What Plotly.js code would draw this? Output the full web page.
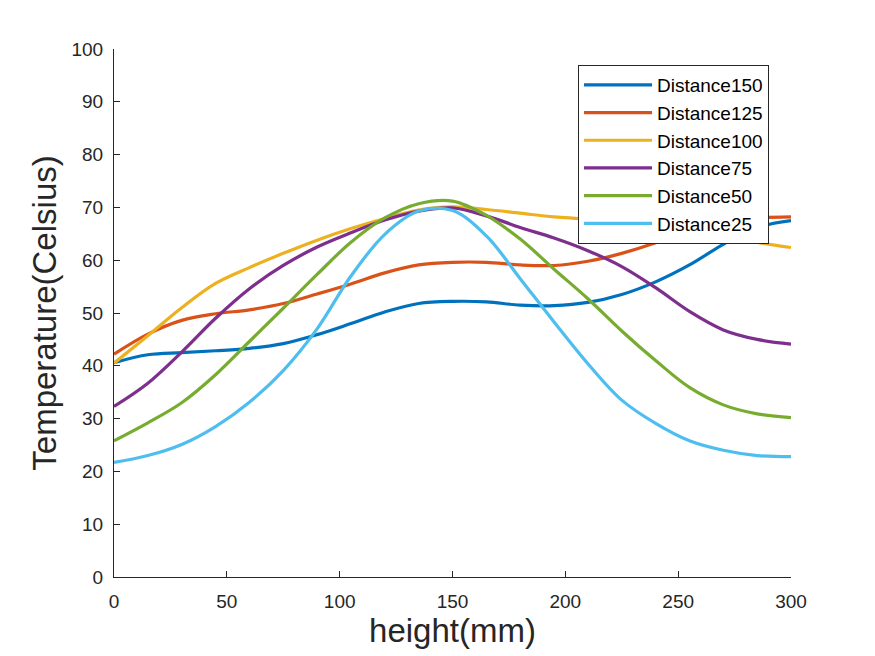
<!DOCTYPE html>
<html>
<head>
<meta charset="utf-8">
<script src="https://cdn.plot.ly/plotly-3.0.1.min.js"></script>
<style>html,body{margin:0;padding:0;background:#fff;}#chart{width:875px;height:656px;}</style>
</head>
<body>
<div id="chart"></div>
<script>
const heights = [0,15,30,45,60,75,90,105,120,135,150,165,180,195,210,225,240,255,270,285,300];
const seriesNames = ["Distance150","Distance125","Distance100","Distance75","Distance50","Distance25"];
const distance150 = [40.6,42.1,42.5,42.85,43.3,44.2,45.9,48.0,50.2,51.8,52.2,52.1,51.5,51.4,52.0,53.5,55.9,59.1,63.0,66.2,67.5];
const distance125 = [42.2,46.0,48.6,49.85,50.6,51.8,53.6,55.5,57.6,59.1,59.6,59.6,59.1,59.0,59.8,61.3,63.3,65.8,67.3,68.0,68.2];
const distance100 = [40.5,45.7,51.0,55.6,58.6,61.3,63.8,66.0,67.9,69.5,70.1,69.6,68.9,68.2,67.8,67.6,67.3,66.4,65.0,63.4,62.4];
const distance75  = [32.3,36.7,42.6,49.0,54.6,59.0,62.5,65.2,67.6,69.3,69.9,68.4,66.2,64.2,61.8,58.8,54.8,50.3,46.8,45.0,44.1];
const distance50  = [25.8,29.2,33.0,38.3,44.6,50.9,57.3,63.4,68.0,70.7,71.2,68.5,64.0,58.3,52.7,46.6,41.0,35.9,32.6,30.9,30.2];
const distance25  = [21.7,23.0,25.1,28.5,33.1,39.1,47.0,57.0,64.9,69.3,69.4,64.6,56.5,48.3,40.4,33.5,29.1,25.8,24.0,23.0,22.8];
const seriesValues = [distance150,distance125,distance100,distance75,distance50,distance25];
const colors = ["#0072BD","#D95319","#EDB120","#7E2F8E","#77AC30","#4DBEEE"];

const traces = seriesNames.map((n,i)=>({
  x: heights, y: seriesValues[i], name: n, type: "scatter", mode: "lines",
  line: {color: colors[i], width: 3.2, shape: "spline", smoothing: 1}
}));

const font = "Liberation Sans, Arial, Helvetica, sans-serif";
const layout = {
  width: 875, height: 656,
  margin: {l:114, r:84, t:49, b:79},
  paper_bgcolor: "#fff", plot_bgcolor: "#fff",
  font: {family: font, color: "#262626", size: 19},
  showlegend: true,
  xaxis: {
    range: [0,300], tickvals: [0,50,100,150,200,250,300],
    ticks: "inside", ticklen: 6, tickcolor: "#262626", tickwidth: 1,
    showline: true, linecolor: "#262626", linewidth: 1,
    showgrid: false, zeroline: false, ticklabelstandoff: 7,
    tickfont: {size: 19, color: "#262626"},
    title: {text: "height(mm)", font: {size: 33, color: "#262626"}, standoff: 6}
  },
  yaxis: {
    range: [0,100], tickvals: [0,10,20,30,40,50,60,70,80,90,100],
    ticks: "inside", ticklen: 6, tickcolor: "#262626", tickwidth: 1,
    showline: true, linecolor: "#262626", linewidth: 1,
    showgrid: false, zeroline: false, ticklabelstandoff: 6,
    tickfont: {size: 19, color: "#262626"},
    title: {text: "Temperature(Celsius)", font: {size: 33, color: "#262626"}, standoff: 4}
  },
  legend: {
    x: 0.6854, y: 0.9697, xanchor: "left", yanchor: "top",
    bgcolor: "#fff", bordercolor: "#262626", borderwidth: 1,
    font: {size: 19, color: "#000"},
    tracegroupgap: 0, itemwidth: 68
  }
};
Plotly.newPlot("chart", traces, layout, {displayModeBar: false, staticPlot: true});
</script>
</body>
</html>
